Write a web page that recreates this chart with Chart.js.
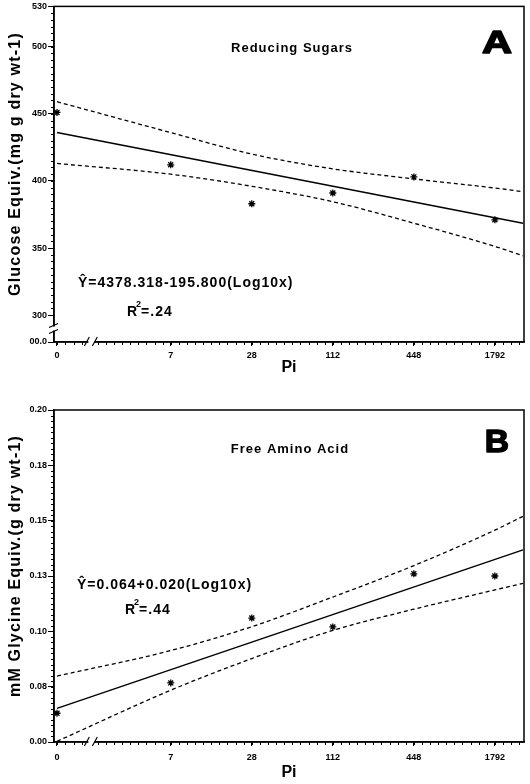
<!DOCTYPE html>
<html><head><meta charset="utf-8">
<script src="https://cdn.jsdelivr.net/npm/chart.js@4.4.1/dist/chart.umd.min.js"></script>
<style>
html,body{margin:0;padding:0;background:#fff;}
#wrap{position:relative;width:530px;height:784px;background:#fff;}
canvas{position:absolute;left:0;}
</style></head><body>
<div id="wrap">
<canvas id="cA" width="530" height="392" style="top:0"></canvas>
<canvas id="cB" width="530" height="392" style="top:392px"></canvas>
</div>
<script>
// ---- data ----
const doses = [1, 7, 28, 112, 448, 1792];
const doseLabels = ["0", "7", "28", "112", "448", "1792"];
const bandDoses = [1, 7, 28, 112, 448, 1792, 2900];
const fitDoses = [1, 2900];

const sugarObs = [451, 412, 383, 391, 403, 371];
const sugarFit = [436, 368.5];
const sugarUpper = [459, 436, 420, 409, 401.5, 394.7, 392];
const sugarLower = [413, 405, 396, 384.5, 368.5, 351.2, 344.2];
const sugarTicks = [280, 300, 350, 400, 450, 500, 530];
const sugarTickLabels = ["00.0", "300", "350", "400", "450", "500", "530"];

const aminoObs = [0.063, 0.0767, 0.106, 0.102, 0.126, 0.125];
const aminoFit = [0.0652, 0.1368];
const aminoUpper = [0.0798, 0.0913, 0.1021, 0.1155, 0.1297, 0.1457, 0.152];
const aminoLower = [0.0503, 0.0734, 0.0877, 0.1004, 0.110, 0.1187, 0.1217];
const aminoTicks = [0.05, 0.075, 0.10, 0.125, 0.15, 0.175, 0.20];
const aminoTickLabels = ["0.00", "0.08", "0.10", "0.13", "0.15", "0.18", "0.20"];

const FONT = "'Liberation Sans', Arial, sans-serif";

const decor = {
  id: 'decor',
  afterDraw(chart, args, o) {
    const ctx = chart.ctx, ca = chart.chartArea, xs = chart.scales.x, ys = chart.scales.y;
    ctx.save();
    ctx.strokeStyle = '#000';
    // minor y ticks
    ctx.lineWidth = 1;
    for (let n = 0; ; n++) {
      const v = o.yMinorStart + n * o.yMinorStep;
      if (v > ys.max + 1e-9) break;
      const p = Math.round(ys.getPixelForValue(v)) + 0.5;
      ctx.beginPath(); ctx.moveTo(ca.left - 3, p); ctx.lineTo(ca.left, p); ctx.stroke();
    }
    // minor x ticks (log spaced)
    const step = Math.log10(4) / 10, base = Math.log10(7);
    for (let k = -30; k < 60; k++) {
      const v = Math.pow(10, base + k * step);
      if (v < xs.min || v > xs.max) continue;
      const p = Math.round(xs.getPixelForValue(v)) + 0.5;
      ctx.beginPath(); ctx.moveTo(p, ca.bottom); ctx.lineTo(p, ca.bottom + 3); ctx.stroke();
    }
    // frame
    ctx.lineWidth = 1.5;
    ctx.strokeRect(ca.left, ca.top, ca.right - ca.left, ca.bottom - ca.top);
    // x break
    const bx = xs.getPixelForValue(o.xBreak);
    ctx.fillStyle = '#fff';
    ctx.fillRect(bx - 3, ca.bottom - 3, 6, 6);
    ctx.lineWidth = 1.2;
    ctx.beginPath();
    ctx.moveTo(bx - 7, ca.bottom + 4); ctx.lineTo(bx - 2, ca.bottom - 5);
    ctx.moveTo(bx + 1, ca.bottom + 4); ctx.lineTo(bx + 6, ca.bottom - 5);
    ctx.stroke();
    // y break
    if (o.yBreak != null) {
      const by = ys.getPixelForValue(o.yBreak);
      ctx.fillStyle = '#fff';
      ctx.fillRect(ca.left - 2, by - 2, 4, 4);
      ctx.beginPath();
      ctx.moveTo(ca.left - 5, by - 1); ctx.lineTo(ca.left + 4, by - 5);
      ctx.moveTo(ca.left - 5, by + 5); ctx.lineTo(ca.left + 4, by + 1);
      ctx.stroke();
    }
    ctx.fillStyle = '#000';
    ctx.textBaseline = 'middle';
    // y title (rotated)
    ctx.save();
    ctx.translate(o.ytitle.x, o.ytitle.y);
    ctx.rotate(-Math.PI / 2);
    ctx.font = "bold 16px " + FONT;
    ctx.letterSpacing = '1.2px';
    ctx.textAlign = 'center';
    ctx.fillText(o.ytitle.text, 0, 0);
    ctx.restore();
    // texts
    for (const t of o.texts) {
      ctx.save();
      ctx.font = t.font;
      ctx.textAlign = t.align || 'left';
      ctx.letterSpacing = (t.ls || 0) + 'px';
      ctx.translate(t.x, t.y);
      if (t.sx) ctx.scale(t.sx, 1);
      ctx.fillText(t.text, 0, 0);
      if (t.stroke) { ctx.lineWidth = t.stroke; ctx.lineJoin = 'round'; ctx.strokeText(t.text, 0, 0); }
      ctx.restore();
    }
    // R^2
    const r = o.r2;
    ctx.textAlign = 'left';
    ctx.letterSpacing = '1px';
    ctx.font = "bold 14px " + FONT;
    ctx.fillText("R", r.x, r.y);
    const rw = ctx.measureText("R").width;
    ctx.font = "bold 9px " + FONT;
    ctx.fillText("2", r.x + rw - 2, r.y - 7);
    ctx.font = "bold 14px " + FONT;
    ctx.fillText(r.rest, r.x + rw + 3, r.y);
    ctx.restore();
  }
};

function makePanel(id, p) {
  const pts = (xs, ys) => xs.map((d, i) => ({x: d, y: ys[i]}));
  return new Chart(document.getElementById(id), {
    type: 'scatter',
    data: {
      datasets: [
        {data: pts(bandDoses, p.upper), showLine: true, borderColor: '#000', borderWidth: 1.3, borderDash: [4, 3], pointRadius: 0, cubicInterpolationMode: 'monotone'},
        {data: pts(bandDoses, p.lower), showLine: true, borderColor: '#000', borderWidth: 1.3, borderDash: [4, 3], pointRadius: 0, cubicInterpolationMode: 'monotone'},
        {data: pts(fitDoses, p.fit), showLine: true, borderColor: '#000', borderWidth: 1.5, pointRadius: 0},
        {data: pts(doses, p.obs), showLine: false, pointStyle: 'star', pointRadius: 3.5, borderColor: '#000', borderWidth: 1.3, backgroundColor: '#000'}
      ]
    },
    options: {
      responsive: false, animation: false, events: [],
      layout: {padding: {top: p.top, right: 6, left: 0, bottom: 0}},
      plugins: {legend: {display: false}, tooltip: {enabled: false}, decor: p.decor},
      scales: {
        x: {
          type: 'logarithmic', min: 0.95, max: 2949,
          afterBuildTicks: (s) => { s.ticks = doses.map(v => ({value: v})); },
          afterFit: (s) => { s.height = p.xHeight; },
          ticks: {color: '#000', font: {family: FONT, size: 9, weight: 'bold'}, padding: p.xPad, maxRotation: 0, autoSkip: false,
                  callback: (v, i) => doseLabels[i]},
          grid: {drawOnChartArea: false, drawTicks: true, tickLength: 4, color: '#000', lineWidth: 1},
          border: {display: true, color: '#000', width: 1.5},
          title: {display: true, text: 'Pi', color: '#000', font: {family: FONT, size: 16, weight: 'bold'}, padding: {top: 0, bottom: p.piPad}}
        },
        y: {
          min: p.ymin, max: p.ymax,
          afterBuildTicks: (s) => { s.ticks = p.ticks.map(v => ({value: v})); },
          afterFit: (s) => { s.width = 54; },
          ticks: {color: '#000', font: {family: FONT, size: 9, weight: 'bold'}, padding: 1, autoSkip: false,
                  callback: (v, i) => p.tickLabels[i]},
          grid: {drawOnChartArea: false, drawTicks: true, tickLength: 6, color: '#000', lineWidth: 1},
          border: {display: true, color: '#000', width: 1.5},
          title: {display: false}
        }
      }
    },
    plugins: [decor]
  });
}

makePanel('cA', {
  obs: sugarObs, fit: sugarFit, upper: sugarUpper, lower: sugarLower,
  ticks: sugarTicks, tickLabels: sugarTickLabels, ymin: 280, ymax: 530,
  top: 5, xHeight: 50, xPad: 4, piPad: 14.4,
  decor: {
    yMinorStart: 300, yMinorStep: 5, xBreak: 1.8, yBreak: 290,
    ytitle: {text: 'Glucose Equiv.(mg g dry wt-1)', x: 16, y: 164},
    texts: [
      {text: 'Reducing Sugars', x: 292, y: 48, font: "bold 13px " + FONT, align: 'center', ls: 1},
      {text: 'A', x: 497, y: 44, font: "bold 32px " + FONT, align: 'center', sx: 1.3, stroke: 1.5},
      {text: 'Ŷ=4378.318-195.800(Log10x)', x: 78, y: 283, font: "bold 14px " + FONT, ls: 1}
    ],
    r2: {x: 127, y: 312, rest: '=.24'}
  }
});

makePanel('cB', {
  obs: aminoObs, fit: aminoFit, upper: aminoUpper, lower: aminoLower,
  ticks: aminoTicks, tickLabels: aminoTickLabels, ymin: 0.05, ymax: 0.20,
  top: 18, xHeight: 42, xPad: 6, piPad: 1.4,
  decor: {
    yMinorStart: 0.05, yMinorStep: 0.0025, xBreak: 1.8, yBreak: null,
    ytitle: {text: 'mM Glycine Equiv.(g dry wt-1)', x: 16, y: 174},
    texts: [
      {text: 'Free Amino Acid', x: 290, y: 57, font: "bold 13px " + FONT, align: 'center', ls: 1},
      {text: 'B', x: 497, y: 51, font: "bold 32px " + FONT, align: 'center', sx: 1.05, stroke: 1.5},
      {text: 'Ŷ=0.064+0.020(Log10x)', x: 77, y: 193, font: "bold 14px " + FONT, ls: 1}
    ],
    r2: {x: 125, y: 218, rest: '=.44'}
  }
});
</script>
</body></html>
